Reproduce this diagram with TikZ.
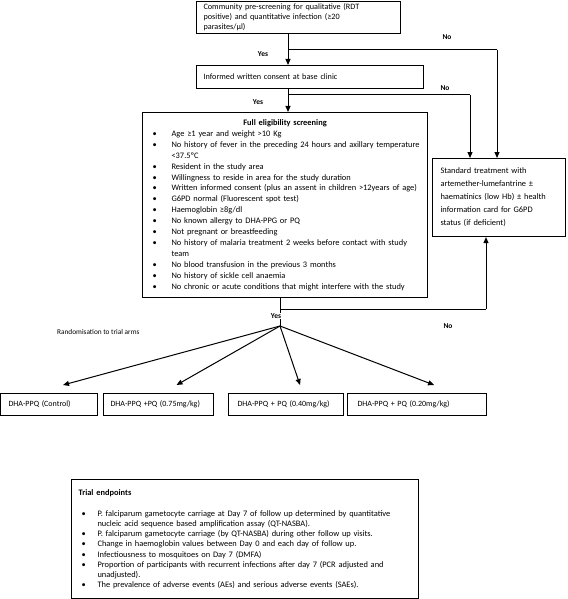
\documentclass[tikz,border=0pt]{standalone}
\usepackage{fontspec}
\setmainfont{Carlito}
\usetikzlibrary{arrows.meta}
\newcommand{\bl}[1]{\makebox[29pt][l]{\hspace{10pt}\textbullet}#1\\}
\newcommand{\cl}[1]{\hspace*{29pt}#1\\}
\newcommand{\eb}[1]{\makebox[19pt][l]{\hspace{3pt}\textbullet}#1\\}
\newcommand{\ec}[1]{\hspace*{19pt}#1\\}
\begin{document}
\begin{tikzpicture}[x=1pt,y=-1pt,
  box/.style={draw, line width=1.1pt, anchor=north west, align=left, inner ysep=0pt},
  txt/.style={font=\fontsize{8.2}{10}\selectfont},
  arr/.style={line width=1pt, -{Triangle[length=6pt,width=5pt]}},
  ln/.style={line width=1pt},
  lbl/.style={font=\fontsize{7.5}{9}\selectfont\bfseries, inner sep=1pt},
]
\useasboundingbox (0,0) rectangle (567,599);

\node[box, txt, inner xsep=7pt, text width=190pt, minimum height=32pt] (pre) at (196,1)
 {Community pre-screening for qualitative (RDT\\ positive) and quantitative infection (≥20\\ parasites/µl)};
\node[box, txt, inner xsep=7pt, text width=213pt, minimum height=23pt] (consent) at (196,65)
 {Informed written consent at base clinic};
\node[box, font=\fontsize{8.4}{10.9}\selectfont, inner xsep=0pt, text width=285pt, minimum height=185pt] (elig) at (142,112)
 {\makebox[285pt][c]{\bfseries Full eligibility screening}\\
 \bl{Age ≥1 year and weight >10 Kg}
 \bl{No history of fever in the preceding 24 hours and axillary temperature}
 \cl{<37.5ºC}
 \bl{Resident in the study area}
 \bl{Willingness to reside in area for the study duration}
 \bl{Written informed consent (plus an assent in children >12years of age)}
 \bl{G6PD normal (Fluorescent spot test)}
 \bl{Haemoglobin ≥8g/dl}
 \bl{No known allergy to DHA-PPG or PQ}
 \bl{Not pregnant or breastfeeding}
 \bl{No history of malaria treatment 2 weeks before contact with study}
 \cl{team}
 \bl{No blood transfusion in the previous 3 months}
 \bl{No history of sickle cell anaemia}
 \makebox[29pt][l]{\hspace{10pt}\textbullet}No chronic or acute conditions that might interfere with the study};
\node[box, font=\fontsize{8.4}{13}\selectfont, inner xsep=8pt, text width=117pt, minimum height=78pt] (stdtx) at (432,158)
 {Standard treatment with\\ artemether-lumefantrine ±\\ haematinics (low Hb) ± health\\ information card for G6PD\\ status (if deficient)};

\node[lbl] (yes1) at (263,54) {Yes};
\node[lbl] (no1) at (447,37) {No};
\node[lbl] (yes2) at (258,102) {Yes};
\node[lbl] (no2) at (445,88) {No};
\node[lbl] (no3) at (448,326) {No};
\node[font=\fontsize{7.3}{9}\selectfont, anchor=west, inner sep=0pt] (rand) at (57,332) {Randomisation to trial arms};

\coordinate (c1) at (288,50);
\coordinate (c1r) at (497,50);
\coordinate (c2) at (288,95);
\coordinate (c2r) at (470,95);
\coordinate (c3) at (280,309);
\coordinate (c3r) at (486,309);
\coordinate (apex) at (280,326);

\draw[arr] (pre.south -| c1) -- (consent.north -| c1);
\draw[ln] (c1) -- (c1r);
\draw[arr] (c1r) -- (stdtx.north -| c1r);
\draw[arr] (consent.south -| c2) -- (elig.north -| c2);
\draw[ln] (c2) -- (c2r);
\draw[arr] (c2r) -- (stdtx.north -| c2r);
\draw[ln] (elig.south -| c3) -- (apex);
\draw[ln] (c3) -- (c3r);
\draw[arr] (c3r) -- (stdtx.south -| c3r);
\node[lbl, fill=white] (yes3) at (276,316) {Yes};

\begin{scope}[every node/.style={box, font=\fontsize{8}{9}\selectfont, minimum height=22pt}]
\node[inner xsep=8pt, text width=81pt] (arm1) at (0,393) {DHA-PPQ (Control)};
\node[inner xsep=7pt, text width=96pt] (arm2) at (103,393) {DHA-PPQ +PQ (0.75mg/kg)};
\node[inner xsep=9pt, text width=97pt] (arm3) at (228,393) {DHA-PPQ + PQ (0.40mg/kg)};
\node[inner xsep=10pt, text width=119pt] (arm4) at (347,393) {DHA-PPQ + PQ (0.20mg/kg)};
\end{scope}

\coordinate (t1) at ([xshift=14pt,yshift=8pt]arm1.north);
\coordinate (t2) at ([xshift=18pt,yshift=8pt]arm2.north);
\coordinate (t3) at ([xshift=14pt,yshift=8pt]arm3.north);
\coordinate (t4) at ([xshift=17pt,yshift=8pt]arm4.north);
\foreach \t in {t1,t2,t3,t4} \draw[arr] (apex) -- (\t);

\node[box, font=\fontsize{8.4}{10.2}\selectfont, inner xsep=7pt, text width=333pt, minimum height=119pt] (endp) at (71,479)
 {\textbf{Trial endpoints}\\[11pt]
 \eb{P. falciparum gametocyte carriage at Day 7 of follow up determined by quantitative}
 \ec{nucleic acid sequence based amplification assay (QT-NASBA).}
 \eb{P. falciparum gametocyte carriage (by QT-NASBA) during other follow up visits.}
 \eb{Change in haemoglobin values between Day 0 and each day of follow up.}
 \eb{Infectiousness to mosquitoes on Day 7 (DMFA)}
 \eb{Proportion of participants with recurrent infections after day 7 (PCR adjusted and}
 \ec{unadjusted).}
 \makebox[19pt][l]{\hspace{3pt}\textbullet}The prevalence of adverse events (AEs) and serious adverse events (SAEs).};
\end{tikzpicture}
\end{document}
